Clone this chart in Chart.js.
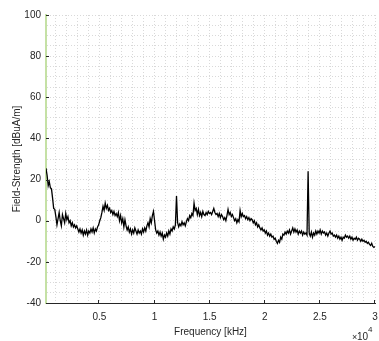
<!DOCTYPE html>
<html>
<head>
<meta charset="utf-8">
<script src="https://cdn.jsdelivr.net/npm/chart.js@4.4.0/dist/chart.umd.min.js"></script>
<style>
  html, body { margin: 0; padding: 0; background: #fff; }
  #wrap { width: 379px; height: 341px; }
</style>
</head>
<body>
<div id="wrap"><canvas id="spectrum" width="379" height="341"></canvas></div>
<script>
// sweep: 150 kHz .. 30 MHz, 301 points
const freqStart = 150;
const freqStep = 99.5;

// field strength in dBuA/m
const fieldStrength = [
  25.5, 22, 17, 19, 16, 15.5, 11, 6, 5.5, 2,
  -2, 1, 4, 0, -2.5, 3, 1, -1, 3.5, 0.5,
  2, -1, 0, -2.5, -1, -3, -2, -3.5, -2.5, -4,
  -5.5, -4, -6, -4.5, -7, -5, -6.5, -4.5, -7, -5,
  -6, -4, -5.5, -3.5, -6, -4, -5, -3, -2, 0,
  1.5, 4, 7, 5, 8.5, 6, 7.5, 5, 6, 4,
  5, 3, 4.5, 2.5, 3.5, 2, 4, 0, 2.5, -1,
  1, -3, 0.5, -2.5, -4.5, -3, -5.5, -4, -6.5, -4.5,
  -6, -3.5, -5, -6.5, -4.5, -6, -5, -6.5, -4, -5.5,
  -3.5, -5, -2.5, -1, -3, 1, -1, 2.5, 4.5, 0,
  -4.5, -6, -5, -7, -5.5, -7.5, -6, -9, -7, -8,
  -6, -7.5, -5, -6.5, -4, -5, -3, -4, -2, 12,
  -1, -3, -1.5, -2.5, -0.5, -2, -1, -2.5, -0.5, 1,
  0, 2.5, 1.5, 3.5, 2.5, 8.5, 5, 6, 3, 5.5,
  2.5, 4, 2, 4.5, 3, 2.5, 4, 3, 4.5, 3.5,
  4, 3, 4.5, 6, 4, 3, 3.5, 2, 3.5, 1.5,
  3, 2, 0.5, 1.5, 0, 2.5, 5.5, 3, 4, 2,
  3, 1.5, 0, 1, -1, 0.5, -0.5, 5, 2, 3.5,
  2, 2.5, 1, 2, 0.5, 1.5, 0, 1, 0.5, -1,
  0, -2, -1, -3, -2, -3.5, -4.5, -3.5, -5, -4.5,
  -6, -5, -7, -6, -7.5, -6.5, -8, -7.5, -9, -8.5,
  -10, -11, -9.5, -10.5, -8, -9, -6.5, -7, -5.5, -6.5,
  -5, -6, -4.5, -6.5, -5, -3.5, -5.5, -4, -5.5, -4.5,
  -6.5, -5, -6, -5, -7, -5.5, -6.5, -6, -7, 24,
  -6, -7.5, -5.5, -8, -6, -7, -5, -6.5, -5, -6,
  -4.5, -6.5, -5, -6, -5.5, -7, -6, -7.5, -6, -5,
  -6.5, -6, -7.5, -7, -8, -7, -8.5, -7.5, -9, -8,
  -9.5, -8, -8.5, -7, -8, -7.5, -8.5, -7.5, -9, -8,
  -9.5, -8.5, -9, -8, -9.5, -8.5, -9, -10, -9, -10,
  -9.5, -10.5, -10, -11, -10.5, -11.5, -12, -11, -12.5, -13,
  -12.5
];

const xMajorTicks = [5000, 10000, 15000, 20000, 25000, 30000];
const yMajorTicks = [-40, -20, 0, 20, 40, 60, 80, 100];
const xMinorStep = 1000;
const yMinorStep = 5;

const points = fieldStrength.map((v, i) => ({ x: freqStart + i * freqStep, y: v }));

const xGrid = [];
for (let v = xMinorStep; v <= 30000; v += xMinorStep) xGrid.push(v);
const yGrid = [];
for (let v = -40; v <= 100; v += yMinorStep) yGrid.push(v);

const axisFont = { family: '"Liberation Sans", Arial, sans-serif', size: 10 };
const axisColor = '#262626';

// MATLAB-like inward ticks and the x10^4 exponent
const matlabAxes = {
  id: 'matlabAxes',
  afterDraw(chart) {
    const { ctx, chartArea, scales } = chart;
    ctx.save();
    ctx.strokeStyle = axisColor;
    ctx.lineWidth = 1;
    ctx.beginPath();
    xMajorTicks.forEach(v => {
      const px = Math.round(scales.x.getPixelForValue(v)) - 0.5;
      ctx.moveTo(px, chartArea.bottom);
      ctx.lineTo(px, chartArea.bottom - 3);
    });
    yMajorTicks.forEach(v => {
      const py = Math.round(scales.y.getPixelForValue(v)) + 0.5;
      ctx.moveTo(chartArea.left, py);
      ctx.lineTo(chartArea.left + 3, py);
    });
    ctx.stroke();

    ctx.fillStyle = axisColor;
    ctx.textBaseline = 'alphabetic';
    ctx.textAlign = 'left';
    const r = chartArea.right;
    ctx.font = '9px "Liberation Sans", Arial, sans-serif';
    ctx.fillText('\u00d7', r - 23, 340);
    ctx.font = '10px "Liberation Sans", Arial, sans-serif';
    ctx.fillText('10', r - 18, 340);
    ctx.font = '8px "Liberation Sans", Arial, sans-serif';
    ctx.fillText('4', r - 7, 332);
    ctx.restore();
  }
};

const ctx = document.getElementById('spectrum').getContext('2d');
const chart = new Chart(ctx, {
  type: 'line',
  data: {
    datasets: [{
      data: points,
      borderColor: '#000000',
      borderWidth: 1.3,
      pointRadius: 0,
      fill: false,
      tension: 0
    }]
  },
  options: {
    responsive: false,
    animation: false,
    devicePixelRatio: 1,
    layout: { padding: { top: 15, right: 4, left: 0, bottom: 0 } },
    plugins: { legend: { display: false }, tooltip: { enabled: false } },
    scales: {
      x: {
        type: 'linear',
        min: 150,
        max: 30000,
        afterBuildTicks: s => { s.ticks = xGrid.map(v => ({ value: v })); },
        afterFit: s => { s.height = 38; s.paddingLeft = 0; s.paddingRight = 0; },
        ticks: {
          autoSkip: false,
          maxRotation: 0,
          padding: 8,
          font: axisFont,
          color: axisColor,
          callback: v => xMajorTicks.includes(v) ? String(v / 10000) : ''
        },
        grid: { color: '#d9d9d9', lineWidth: 1, drawTicks: false },
        border: { display: true, color: axisColor, width: 1, dash: [1, 2] },
        title: {
          display: true,
          text: 'Frequency [kHz]',
          font: axisFont,
          color: axisColor,
          padding: { top: 4, bottom: 3 }
        }
      },
      y: {
        min: -40,
        max: 100,
        afterBuildTicks: s => { s.ticks = yGrid.map(v => ({ value: v })); },
        afterFit: s => { s.width = 46; s.paddingTop = 0; s.paddingBottom = 0; },
        ticks: {
          autoSkip: false,
          padding: 5,
          font: axisFont,
          color: axisColor,
          callback: v => yMajorTicks.includes(v) ? String(v) : ''
        },
        grid: { color: '#d9d9d9', lineWidth: 1, drawTicks: false },
        border: { display: true, color: '#c5e1a5', width: 2, dash: [1, 2] },
        title: {
          display: true,
          text: 'Field-Strength [dBuA/m]',
          font: axisFont,
          color: axisColor,
          padding: { top: 11, bottom: 0 }
        }
      }
    }
  },
  plugins: [matlabAxes]
});
</script>
</body>
</html>
